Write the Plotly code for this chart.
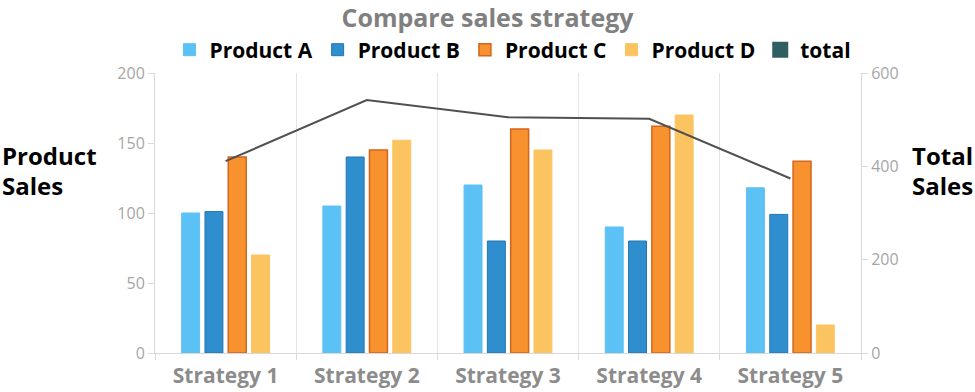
import plotly.graph_objects as go

categories = ["Strategy 1", "Strategy 2", "Strategy 3", "Strategy 4", "Strategy 5"]
product_a = [100, 105, 120, 90, 118]
product_b = [101, 140, 80, 80, 99]
product_c = [140, 145, 160, 162, 137]
product_d = [70, 152, 145, 170, 20]
total = [411, 542, 505, 502, 374]

left_ticks = [0, 50, 100, 150, 200]
right_ticks = [0, 200, 400, 600]

fig = go.Figure()
fig.add_trace(go.Bar(name="Product A", x=categories, y=product_a,
                     marker=dict(color="#5CC1F4", line=dict(color="#5CC1F4", width=1))))
fig.add_trace(go.Bar(name="Product B", x=categories, y=product_b,
                     marker=dict(color="#2F8FCE", line=dict(color="#2574B0", width=1))))
fig.add_trace(go.Bar(name="Product C", x=categories, y=product_c,
                     marker=dict(color="#F8922F", line=dict(color="#D2661C", width=1.5))))
fig.add_trace(go.Bar(name="Product D", x=categories, y=product_d,
                     marker=dict(color="#FBC460", line=dict(color="#FBC460", width=1))))
fig.add_trace(go.Scatter(name="total", x=categories, y=total, yaxis="y2",
                         mode="lines", line=dict(color="#505050", width=2),
                         showlegend=False))
# legend entry for total (square marker like the reference)
fig.add_trace(go.Scatter(name="total", x=[None], y=[None], yaxis="y2",
                         mode="markers", marker=dict(symbol="square", size=16, color="#2F5F63")))

axis_gray = "#d9d9d9"
tick_font = dict(family="Open Sans", size=16, color="#a6a6a6")
label_font = dict(family="Open Sans", size=24, color="#000000", weight="bold")

fig.update_layout(
    width=975, height=392,
    margin=dict(l=155, r=114, t=73, b=39, autoexpand=False),
    paper_bgcolor="white", plot_bgcolor="white",
    barmode="group", bargap=0.34, bargroupgap=0.23,
    title=dict(text="Compare sales strategy", x=0.5, xanchor="center",
               y=0.953, yanchor="middle", automargin=False,
               font=dict(family="Open Sans", size=25, color="#808080", weight="bold")),
    legend=dict(orientation="h", x=0.507, xanchor="center", y=1.082, yanchor="middle",
                font=dict(family="Open Sans", size=21, color="#000000", weight="bold"),
                itemwidth=30, traceorder="normal", bgcolor="rgba(0,0,0,0)"),
    xaxis=dict(type="category", tickson="boundaries", showgrid=True, gridcolor="#e3e3e3",
               gridwidth=1, showline=True, linecolor=axis_gray, ticks="outside",
               ticklen=6, tickcolor=axis_gray, ticklabelstandoff=4, automargin=False,
               tickfont=dict(family="Open Sans", size=21, color="#8c8c8c", weight="bold")),
    yaxis=dict(range=[0, 200], tickvals=left_ticks, showgrid=False, zeroline=False,
               showline=True, linecolor=axis_gray, ticks="outside", ticklen=6,
               tickcolor=axis_gray, tickfont=tick_font, automargin=False),
    yaxis2=dict(range=[0, 600], tickvals=right_ticks, overlaying="y", side="right",
                showgrid=False, zeroline=False, showline=True, linecolor=axis_gray,
                ticks="outside", ticklen=6, tickcolor=axis_gray, tickfont=tick_font,
                automargin=False),
    annotations=[
        dict(text="Product", xref="paper", yref="paper", x=-0.2195, y=0.704,
             xanchor="left", yanchor="middle", showarrow=False, font=label_font),
        dict(text="Sales", xref="paper", yref="paper", x=-0.2195, y=0.600,
             xanchor="left", yanchor="middle", showarrow=False, font=label_font),
        dict(text="Total", xref="paper", yref="paper", x=1.0694, y=0.704,
             xanchor="left", yanchor="middle", showarrow=False, font=label_font),
        dict(text="Sales", xref="paper", yref="paper", x=1.0694, y=0.600,
             xanchor="left", yanchor="middle", showarrow=False, font=label_font),
    ],
)

fig.write_html("out.html", config={"displayModeBar": False},
               post_script="document.body.style.margin='0';")
